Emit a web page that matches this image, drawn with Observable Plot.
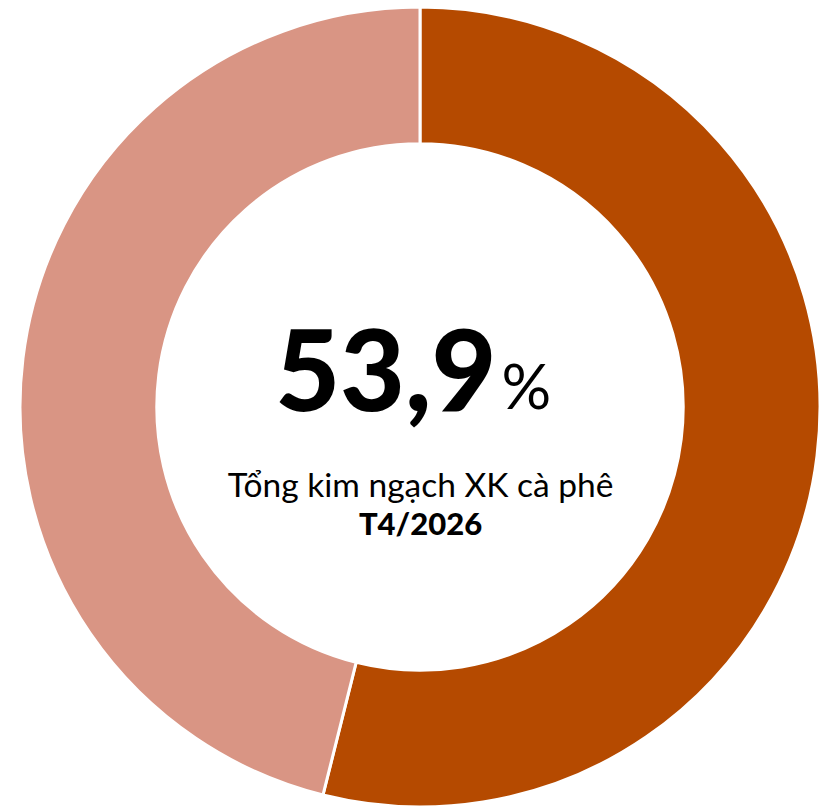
<!DOCTYPE html>
<html>
<head>
<meta charset="utf-8">
<script src="https://cdn.jsdelivr.net/npm/d3@7"></script>
<script src="https://cdn.jsdelivr.net/npm/@observablehq/plot@0.6"></script>
<style>
  html, body { margin: 0; padding: 0; background: #fff; }
  svg { display: block; }
</style>
</head>
<body>
<div id="chart"></div>
<script>
const categories = ["Tỷ trọng", "Còn lại"];
const shares = [53.9, 46.1];
const colors = ["#B54A00", "#D99584"];
const bigValue = "53,9";
const bigUnit = "%";
const subtitle = "Tổng kim ngạch XK cà phê";
const period = "T4/2026";

const data = categories.map((c, i) => ({category: c, value: shares[i]}));

function donut(index, scales, values, dimensions) {
  const cx = scales.x(0), cy = scales.y(0);
  const outer = Math.abs(scales.x(1) - scales.x(0));
  const inner = outer * 0.658;
  const pie = d3.pie().sort(null).value(d => d.value);
  const arc = d3.arc().innerRadius(inner).outerRadius(outer);
  const g = d3.create("svg:g").attr("transform", `translate(${cx},${cy})`);
  g.selectAll("path")
    .data(pie(data))
    .join("path")
    .attr("d", arc)
    .attr("fill", d => scales.color(d.data.category))
    .attr("stroke", "#fff")
    .attr("stroke-width", 3);
  return g.node();
}

const plot = Plot.plot({
  width: 828,
  height: 809,
  margin: 0,
  x: {domain: [-1, 1], range: [20, 820], axis: null},
  y: {domain: [-1, 1], range: [807, 7], axis: null},
  color: {domain: categories, range: colors},
  style: {fontFamily: "Lato, sans-serif", color: "#000", background: "#fff"},
  marks: [
    donut,
    Plot.text([bigValue], {x: 0, y: 0, text: d => d, textAnchor: "end", lineAnchor: "bottom", dx: 76, dy: 3, fontSize: 112, fontWeight: 900, fill: "#000"}),
    Plot.text([bigUnit], {x: 0, y: 0, text: d => d, textAnchor: "start", lineAnchor: "bottom", dx: 81, dy: 1, fontSize: 62, fill: "#000"}),
    Plot.text([subtitle], {x: 0, y: 0, text: d => d, textAnchor: "middle", lineAnchor: "bottom", dx: 0, dy: 89, fontSize: 33.5, fill: "#000"}),
    Plot.text([period], {x: 0, y: 0, text: d => d, textAnchor: "middle", lineAnchor: "bottom", dx: 0, dy: 127, fontSize: 31, fontWeight: 900, fill: "#000"})
  ]
});
document.getElementById("chart").appendChild(plot);
</script>
</body>
</html>
